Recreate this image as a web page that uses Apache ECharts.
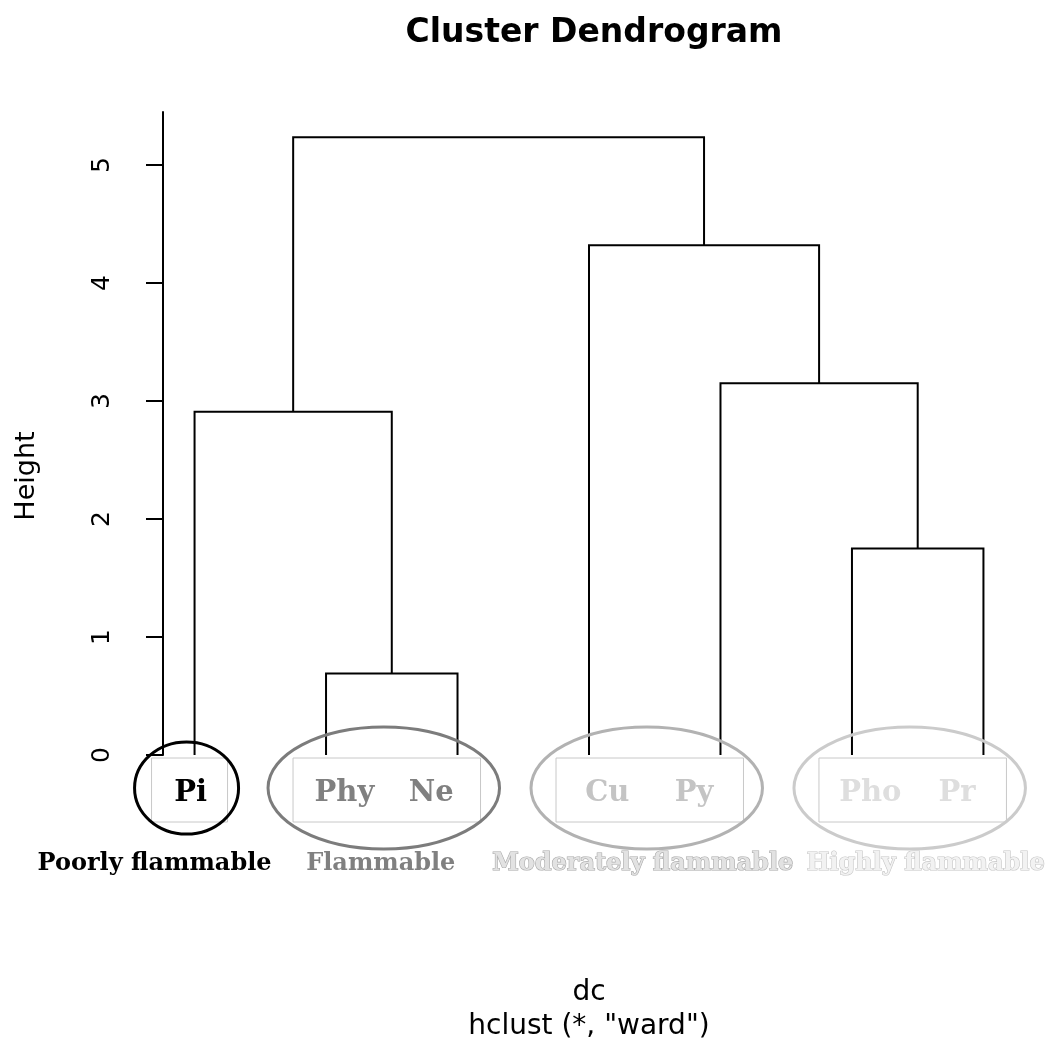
<!DOCTYPE html>
<html>
<head>
<meta charset="utf-8">
<title>Cluster Dendrogram</title>
<script src="https://cdn.jsdelivr.net/npm/echarts@6/dist/echarts.min.js"></script>
<style>
  html, body { margin: 0; padding: 0; background: #fff; }
  #chart { width: 1053px; height: 1048px; }
</style>
</head>
<body>
<div id="chart"></div>
<script>
// leaves, in dendrogram order
const leafLabels = ['Pi', 'Phy', 'Ne', 'Cu', 'Py', 'Pho', 'Pr'];
// hclust merge table: negative = leaf (1-based), positive = earlier merge (1-based)
const mergeA = [-2, -6, -1, -5, -4, 3];
const mergeB = [-3, -7, 1, 2, 4, 5];
const mergeHeight = [0.69, 1.75, 2.91, 3.15, 4.32, 5.235];
const yTicks = [0, 1, 2, 3, 4, 5];
// flammability groups, as leaf index ranges
const groupNames = ['Poorly flammable', 'Flammable', 'Moderately flammable', 'Highly flammable'];
const groupFirst = [0, 1, 3, 5];
const groupLast = [0, 2, 4, 6];

// styles
const leafColor = ['#000000', '#808080', '#c4c4c4', '#dedede'];
const ellipseColor = ['#000000', '#7c7c7c', '#b2b2b2', '#cbcbcb'];
const labelFill = ['#000000', '#808080', '#e2e2e2', '#f2f2f2'];
const labelStroke = [null, null, '#a8a8a8', '#c6c6c6'];
const labelShift = [-40, -11, -12, 8];

const mergeX = [];
function nodeX(id) { return id < 0 ? -id - 1 : mergeX[id - 1]; }
function nodeH(id) { return id < 0 ? 0 : mergeHeight[id - 1]; }
mergeA.forEach(function (a, i) {
  mergeX.push((nodeX(a) + nodeX(mergeB[i])) / 2);
});

const chart = echarts.init(document.getElementById('chart'));

chart.setOption({
  animation: false,
  backgroundColor: '#fff',
  title: {
    text: 'Cluster Dendrogram',
    left: 589,
    top: 12,
    textAlign: 'center',
    textStyle: { fontFamily: 'DejaVu Sans', fontWeight: 'bold', fontSize: 33, color: '#000' }
  },
  grid: { left: 163, right: 38, top: 112, bottom: 293 },
  xAxis: {
    type: 'value',
    min: -0.24,
    max: 6.24,
    show: false
  },
  yAxis: {
    type: 'value',
    position: 'left',
    min: 0,
    max: 5.45,
    interval: 1,
    axisLine: { show: true, onZero: false, lineStyle: { color: '#000', width: 2 } },
    axisTick: { show: true, length: 17, lineStyle: { color: '#000', width: 2 }, customValues: yTicks },
    axisLabel: {
      rotate: 90,
      margin: 48,
      fontSize: 25,
      fontFamily: 'DejaVu Sans',
      color: '#000',
      customValues: yTicks
    },
    splitLine: { show: false }
  },
  graphic: [
    {
      type: 'text', x: 27, y: 476, rotation: Math.PI / 2,
      style: { text: 'Height', font: '27px "DejaVu Sans"', fill: '#000',
        align: 'center', verticalAlign: 'middle', textAlign: 'center', textVerticalAlign: 'middle' }
    },
    {
      type: 'text', x: 589, y: 993,
      style: { text: 'dc', font: '28px "DejaVu Sans"', fill: '#000',
        align: 'center', verticalAlign: 'middle', textAlign: 'center', textVerticalAlign: 'middle' }
    },
    {
      type: 'text', x: 589, y: 1027,
      style: { text: 'hclust (*, "ward")', font: '28px "DejaVu Sans"', fill: '#000',
        align: 'center', verticalAlign: 'middle', textAlign: 'center', textVerticalAlign: 'middle' }
    }
  ],
  series: [
    {
      type: 'custom',
      name: 'merges',
      silent: true,
      clip: false,
      data: mergeHeight.map(function (h, i) { return [mergeX[i], h]; }),
      renderItem: function (params, api) {
        const i = params.dataIndex;
        const a = mergeA[i], b = mergeB[i], h = mergeHeight[i];
        const p1 = api.coord([nodeX(a), nodeH(a)]);
        const p2 = api.coord([nodeX(a), h]);
        const p3 = api.coord([nodeX(b), h]);
        const p4 = api.coord([nodeX(b), nodeH(b)]);
        return {
          type: 'polyline',
          shape: { points: [p1, p2, p3, p4] },
          style: { stroke: '#000', lineWidth: 2, fill: null }
        };
      }
    },
    {
      type: 'custom',
      name: 'groups',
      silent: true,
      clip: false,
      data: groupNames.map(function (n, g) { return [(groupFirst[g] + groupLast[g]) / 2, 0]; }),
      renderItem: function (params, api) {
        const g = params.dataIndex;
        const first = groupFirst[g], last = groupLast[g];
        const mid = (first + last) / 2;
        const c = api.coord([mid, 0]);
        const unit = api.size([1, 0])[0];
        const half = (last - first) / 2 * unit;
        const single = first === last;
        const children = [];
        const boxHalf = single ? 38 : half + 28;
        children.push({
          type: 'rect',
          shape: { x: c[0] - 5 - boxHalf, y: c[1] + 3, width: boxHalf * 2, height: 64 },
          style: { stroke: '#c8c8c8', lineWidth: 1, fill: null }
        });
        children.push({
          type: 'ellipse',
          shape: { cx: c[0] - 8, cy: c[1] + 33, rx: single ? 52 : half + 50, ry: single ? 46 : 61 },
          style: { stroke: ellipseColor[g], lineWidth: 3, fill: null }
        });
        for (let j = first; j <= last; j++) {
          const p = api.coord([mid + (j - mid) * 0.66, 0]);
          children.push({
            type: 'text',
            x: p[0] - 4,
            y: c[1] + 38,
            style: {
              text: leafLabels[j],
              font: 'bold 29px "DejaVu Serif"',
              fill: leafColor[g],
              align: 'center',
              verticalAlign: 'middle'
            }
          });
        }
        const ls = {
          text: groupNames[g],
          font: 'bold 24px "DejaVu Serif"',
          fill: labelFill[g],
          align: 'center',
          verticalAlign: 'middle'
        };
        if (labelStroke[g]) {
          ls.stroke = labelStroke[g];
          ls.lineWidth = 1.2;
        }
        children.push({ type: 'text', x: c[0] + labelShift[g], y: c[1] + 109, style: ls });
        return { type: 'group', children: children };
      }
    }
  ]
});
</script>
</body>
</html>
